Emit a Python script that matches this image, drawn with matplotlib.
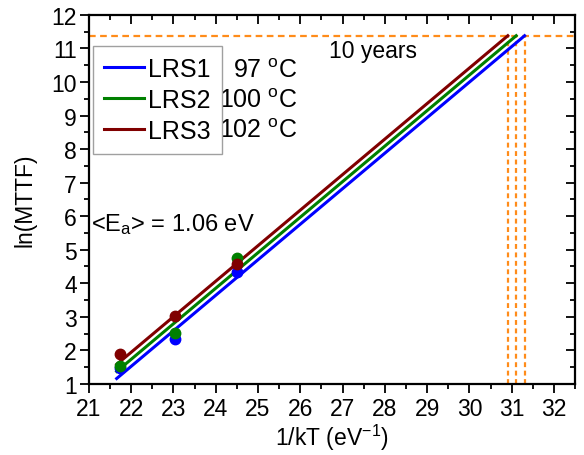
import numpy as np
import matplotlib
matplotlib.use("Agg")
import matplotlib.pyplot as plt
from matplotlib.lines import TICKDOWN, TICKLEFT
from matplotlib.ticker import MultipleLocator

plt.rcParams['font.family'] = ['Liberation Sans', 'DejaVu Sans']
plt.rcParams['mathtext.fontset'] = 'custom'
plt.rcParams['mathtext.rm'] = 'Liberation Sans'
plt.rcParams['mathtext.it'] = 'Liberation Sans'

# 测量数据 1/kT (eV^-1)
inv_kT = [21.74, 23.04, 24.50]

# ln(MTTF)
lrs1_pts = [1.47, 2.33, 4.35]
lrs2_pts = [1.53, 2.52, 4.75]
lrs3_pts = [1.90, 3.01, 4.57]

# 拟合参数: 斜率 Ea，截距
ea = 1.06
intercepts = [-21.80, -21.59, -21.38]
fit_start = 21.66

names = ["LRS1", "LRS2", "LRS3"]
temps = ["97 $^{\\mathrm{o}}$C", "100 $^{\\mathrm{o}}$C", "102 $^{\\mathrm{o}}$C"]
colors = ["#0000ff", "#008000", "#800000"]

# 10 年 (小时)
ten_years = np.log(10 * 365 * 24)
orange = '#ff8c1a'

fig = plt.figure(figsize=(5.84, 4.56), dpi=100)
ax = fig.add_axes([0.152, 0.156, 0.833, 0.809])

for pts, b, c, lab in zip([lrs1_pts, lrs2_pts, lrs3_pts], intercepts, colors, names):
    ax.plot(inv_kT, pts, 'o', color=c, ms=7.5, zorder=3)
    x_end = (ten_years - b) / ea
    xf = np.array([fit_start, x_end])
    ax.plot(xf, ea * xf + b, '-', color=c, lw=2.2, label=lab, zorder=2)
    ax.plot([x_end, x_end], [1, ten_years], '--', color=orange, lw=1.6,
            dashes=(2.2, 1.6), zorder=1)

ax.axhline(ten_years, color=orange, ls='--', lw=1.6, dashes=(3, 2), zorder=1)

ax.set_xlim(21, 32.5)
ax.set_ylim(1, 12)
ax.xaxis.set_major_locator(MultipleLocator(1))
ax.xaxis.set_minor_locator(MultipleLocator(0.5))
ax.yaxis.set_major_locator(MultipleLocator(1))
ax.yaxis.set_minor_locator(MultipleLocator(0.5))

ax.tick_params(which='both', top=True, right=True, direction='out',
               labelsize=16.5, width=1.3)
ax.tick_params(which='major', length=6.5)
ax.tick_params(which='minor', length=3.5)
ax.tick_params(axis='x', which='both', pad=3)
ax.tick_params(axis='y', which='both', pad=2)
# 顶部和右侧刻度朝内
for t in ax.xaxis.get_major_ticks() + ax.xaxis.get_minor_ticks():
    t.tick2line.set_marker(TICKDOWN)
for t in ax.yaxis.get_major_ticks() + ax.yaxis.get_minor_ticks():
    t.tick2line.set_marker(TICKLEFT)

for s in ax.spines.values():
    s.set_linewidth(1.6)

ax.set_xlabel("1/kT (eV$^{\\mathrm{-1}}$)", fontsize=16.5, labelpad=1)
ax.set_ylabel("ln(MTTF)", fontsize=16.5, labelpad=11)

ax.text(0.004, 0.434, "<E$_{\\mathrm{a}}$> = 1.06 eV", transform=ax.transAxes,
        fontsize=17, va='center', ha='left')
ax.text(27.72, 10.95, "10 years", fontsize=16.5, va='center', ha='center')

leg = ax.legend(loc='upper left', bbox_to_anchor=(0.009, 0.916), fontsize=18,
                handlelength=1.6, handletextpad=0.15, borderpad=0.45,
                labelspacing=0.28, fancybox=False, edgecolor='#a0a0a0',
                framealpha=1, borderaxespad=0.0)
leg.get_frame().set_linewidth(1.0)

# 温度标注 (在图例框外)
for ty, tt in zip([0.851, 0.770, 0.688], temps):
    ax.text(0.428, ty, tt, transform=ax.transAxes, fontsize=18,
            ha='right', va='center')

fig.savefig("out.png", dpi=100)
plt.close(fig)
